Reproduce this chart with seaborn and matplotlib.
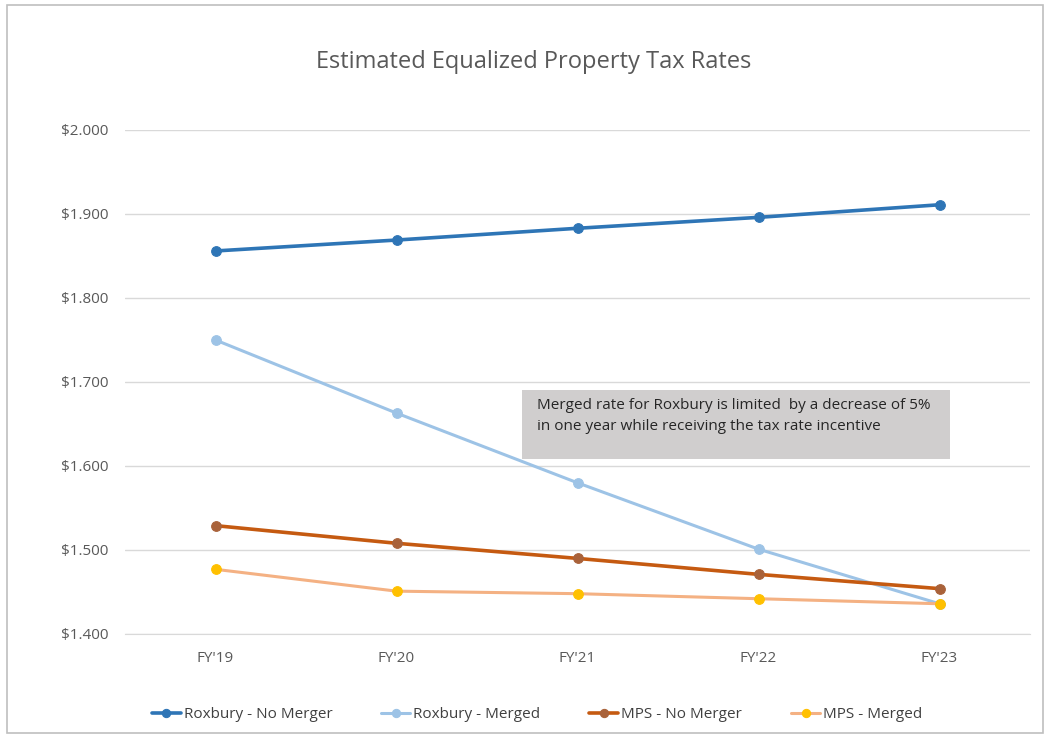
import pandas as pd
import matplotlib.pyplot as plt
import seaborn as sns
from matplotlib.patches import Rectangle

years = ["FY'19", "FY'20", "FY'21", "FY'22", "FY'23"]
roxbury_no_merger = [1.856, 1.869, 1.883, 1.896, 1.911]
roxbury_merged = [1.750, 1.663, 1.580, 1.501, 1.436]
mps_no_merger = [1.529, 1.508, 1.490, 1.471, 1.454]
mps_merged = [1.477, 1.451, 1.448, 1.442, 1.436]

series = {
    'Roxbury - No Merger': roxbury_no_merger,
    'Roxbury - Merged': roxbury_merged,
    'MPS - No Merger': mps_no_merger,
    'MPS - Merged': mps_merged,
}
line_colors = ['#2E75B6', '#9DC3E6', '#C55A11', '#F4B183']
marker_colors = ['#2E75B6', '#9DC3E6', '#A9623A', '#FFC000']

rows = []
for name, vals in series.items():
    for i, v in enumerate(vals):
        rows.append({'year': years[i], 'pos': i, 'rate': v, 'series': name})
df = pd.DataFrame(rows)

sns.set_style('white')
plt.rcParams['font.family'] = ['Open Sans', 'DejaVu Sans']

fig = plt.figure(figsize=(10.51, 7.38), dpi=100)
ax = fig.add_axes([125/1051, 1 - 634/738, 905/1051, 504/738])

for (name, g), lc, mc in zip(df.groupby('series', sort=False), line_colors, marker_colors):
    sns.lineplot(data=g, x='pos', y='rate', ax=ax, color=lc, lw=2.6 if 'No' in name else 2.2,
                 marker='o', markersize=7, markerfacecolor=mc, markeredgecolor=mc,
                 label=name, zorder=3)

ax.set_xlim(-0.5, 4.5)
ax.set_ylim(1.4, 2.0)
ax.set_xticks(range(len(years)))
ax.set_xticklabels(years)
ax.set_yticks([1.4, 1.5, 1.6, 1.7, 1.8, 1.9, 2.0])
ax.set_yticklabels(['$%.3f' % t for t in ax.get_yticks()])
ax.yaxis.grid(True, color='#D9D9D9', lw=1)
ax.xaxis.grid(False)
for s in ['left', 'right', 'top']:
    ax.spines[s].set_visible(False)
ax.spines['bottom'].set_color('#D9D9D9')
ax.tick_params(axis='both', length=0, colors='#595959', labelsize=11, pad=12)
ax.set_xlabel('')
ax.set_ylabel('')

# annotation box
ax.add_patch(Rectangle(((522 - 125) / 905, (634 - 459) / 504), 428 / 905, 69 / 504,
                       transform=ax.transAxes, fc='#D0CECE', ec='none', zorder=5))
ax.text((537 - 125) / 905, (634 - 398) / 504,
        'Merged rate for Roxbury is limited  by a decrease of 5%\nin one year while receiving the tax rate incentive',
        transform=ax.transAxes, ha='left', va='top', fontsize=11, color='#262626',
        linespacing=1.55, zorder=6)

fig.suptitle('Estimated Equalized Property Tax Rates', x=534/1051, y=1 - 50/738, fontsize=17,
             color='#595959')

ax.legend(loc='center', bbox_to_anchor=((537 - 125) / 905, (634 - 715) / 504), ncol=4,
          frameon=False, fontsize=11, labelcolor='#404040', handlelength=1.9,
          columnspacing=3.2, handletextpad=0.2, markerscale=0.85)

fig.patches.append(Rectangle((7/1051, 5/738), 1036/1051, 728/738, transform=fig.transFigure,
                             fill=False, ec='#BFBFBF', lw=1.2))

fig.savefig('out.png', dpi=100)
